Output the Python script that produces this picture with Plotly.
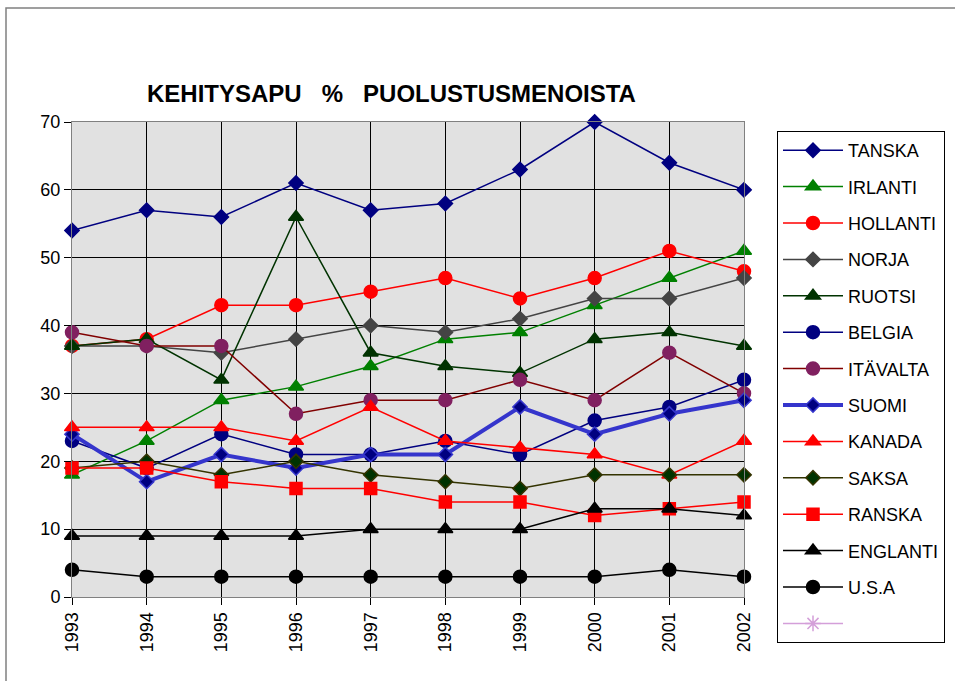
import plotly.graph_objects as go

years = [1993, 1994, 1995, 1996, 1997, 1998, 1999, 2000, 2001, 2002]

tanska   = [54, 57, 56, 61, 57, 58, 63, 70, 64, 60]
irlanti  = [18, 23, 29, 31, 34, 38, 39, 43, 47, 51]
hollanti = [37, 38, 43, 43, 45, 47, 44, 47, 51, 48]
norja    = [37, 37, 36, 38, 40, 39, 41, 44, 44, 47]
ruotsi   = [37, 38, 32, 56, 36, 34, 33, 38, 39, 37]
belgia   = [23, 19, 24, 21, 21, 23, 21, 26, 28, 32]
itavalta = [39, 37, 37, 27, 29, 29, 32, 29, 36, 30]
suomi    = [24, 17, 21, 19, 21, 21, 28, 24, 27, 29]
kanada   = [25, 25, 25, 23, 28, 23, 22, 21, 18, 23]
saksa    = [19, 20, 18, 20, 18, 17, 16, 18, 18, 18]
ranska   = [19, 19, 17, 16, 16, 14, 14, 12, 13, 14]
englanti = [9, 9, 9, 9, 10, 10, 10, 13, 13, 12]
usa      = [4, 3, 3, 3, 3, 3, 3, 3, 4, 3]
tyhja    = [None] * 10

title_text = "KEHITYSAPU\u00a0\u00a0\u00a0%\u00a0\u00a0\u00a0PUOLUSTUSMENOISTA"

# name, values, line color, line width, marker symbol, marker size, marker color, marker outline
series = [
    ("TANSKA", tanska, "#000080", 1.5, "diamond", 11, "#000080", "#000080"),
    ("IRLANTI", irlanti, "#008000", 1.5, "triangle-up", 13, "#008000", "#008000"),
    ("HOLLANTI", hollanti, "#FF0000", 1.5, "circle", 13, "#FF0000", "#FF0000"),
    ("NORJA", norja, "#444444", 1.5, "diamond", 11, "#444444", "#444444"),
    ("RUOTSI", ruotsi, "#003300", 1.5, "triangle-up", 13, "#003300", "#003300"),
    ("BELGIA", belgia, "#000080", 1.5, "circle", 13, "#000080", "#000080"),
    ("ITÄVALTA", itavalta, "#800000", 1.5, "circle", 13, "#802060", "#802060"),
    ("SUOMI", suomi, "#3535CC", 4, "diamond", 11, "#000080", "#3535CC"),
    ("KANADA", kanada, "#FF0000", 1.5, "triangle-up", 13, "#FF0000", "#FF0000"),
    ("SAKSA", saksa, "#333300", 1.5, "diamond", 11, "#003300", "#333300"),
    ("RANSKA", ranska, "#FF0000", 1.5, "square", 12, "#FF0000", "#FF0000"),
    ("ENGLANTI", englanti, "#000000", 1.5, "triangle-up", 13, "#000000", "#000000"),
    ("U.S.A", usa, "#000000", 1.5, "circle", 13, "#000000", "#000000"),
    (" ", tyhja, "#D49FD9", 1.5, "asterisk-open", 13, "#D49FD9", "#D49FD9"),
]

fig = go.Figure()
for i, (name, vals, lc, lw, sym, ms, mc, mo) in enumerate(series):
    fig.add_trace(go.Scatter(
        x=years, y=vals, name=name, mode="lines+markers",
        line=dict(color=lc, width=lw),
        marker=dict(symbol=sym, size=ms, color=mc, line=dict(color=mo, width=1.5)),
        legendgroup=f"g{i}", cliponaxis=False,
    ))

W, H = 955, 681
L, R = 72, 744          # plot area left/right (px)
T, AXB = 122, 597       # plot area top / axis bottom (px)
GB = 655                # grid-space bottom (px), leaves room for the tall legend

def px_x(p):
    return (p - L) / (R - L)

def px_y(p):
    return (GB - p) / (GB - T)

fig.update_layout(
    width=W, height=H,
    margin=dict(l=L, r=W - R, t=T, b=H - GB, autoexpand=False),
    paper_bgcolor="white",
    plot_bgcolor="#E1E1E1",
    font=dict(family="Liberation Sans, Arial, sans-serif", color="black", size=18),
    showlegend=True,
    legend=dict(
        x=px_x(777), y=px_y(131), xanchor="left", yanchor="top",
        bgcolor="white", bordercolor="black", borderwidth=1,
        font=dict(size=18), itemwidth=60, tracegroupgap=10,
        traceorder="grouped",
    ),
    xaxis=dict(
        range=[1993, 2002], tickmode="array", tickvals=years,
        ticktext=[str(y) for y in years], tickangle=-90,
        showgrid=True, gridcolor="#000000", gridwidth=1,
        ticks="outside", ticklen=7, tickcolor="black",
        showline=True, linecolor="#808080", linewidth=1, mirror=True,
        zeroline=False, tickfont=dict(size=18), automargin=False,
    ),
    yaxis=dict(
        domain=[px_y(AXB), 1],
        range=[0, 70], dtick=10,
        showgrid=True, gridcolor="#000000", gridwidth=1,
        ticks="outside", ticklen=7, tickcolor="black",
        showline=True, linecolor="#808080", linewidth=1, mirror=True,
        zeroline=False, tickfont=dict(size=18), automargin=False,
    ),
    annotations=[dict(
        text=f"<b>{title_text}</b>", xref="paper", yref="paper",
        x=px_x(391), y=px_y(93), xanchor="center", yanchor="middle",
        showarrow=False, font=dict(size=24, color="black"),
    )],
    shapes=[dict(
        type="rect", xref="paper", yref="paper",
        x0=px_x(6), x1=px_x(990), y0=px_y(8), y1=px_y(720),
        line=dict(color="#808080", width=1.5), fillcolor="rgba(0,0,0,0)",
        layer="below",
    )],
)

fig.write_html("out.html", config={"displayModeBar": False},
               post_script="document.body.style.margin='0px';")
